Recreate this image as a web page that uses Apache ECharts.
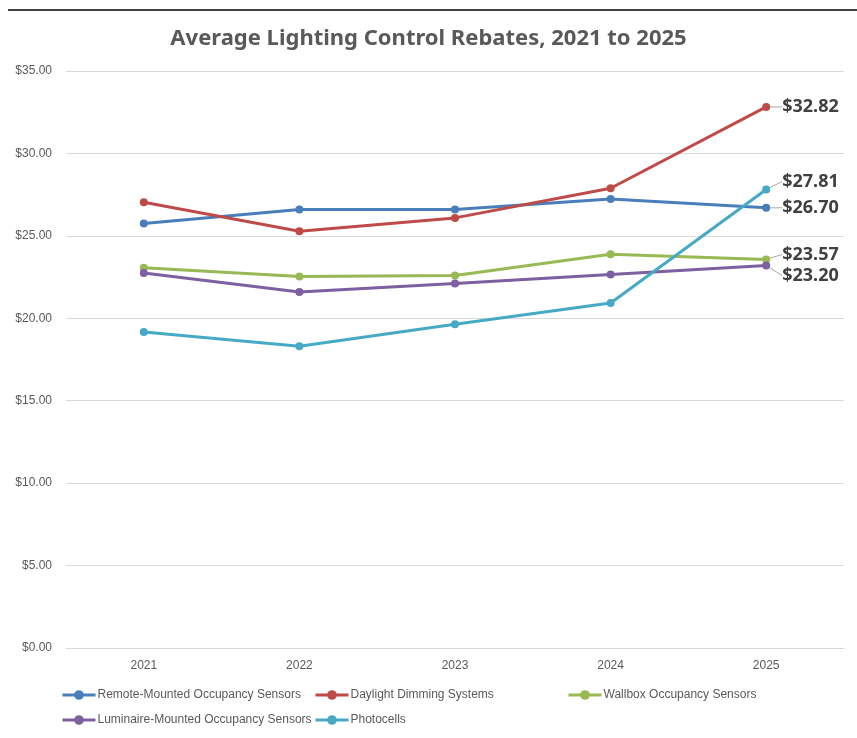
<!DOCTYPE html>
<html>
<head>
<meta charset="utf-8">
<script src="https://cdn.jsdelivr.net/npm/echarts@6/dist/echarts.min.js"></script>
<style>
  html, body { margin: 0; padding: 0; background: #fff; }
  #main { width: 857px; height: 738px; }
</style>
</head>
<body>
<div id="main"></div>
<script>
'use strict'

// chart data
const years = ['2021', '2022', '2023', '2024', '2025'];
const remoteMounted = [25.75, 26.60, 26.60, 27.24, 26.70];
const daylightDimming = [27.04, 25.28, 26.09, 27.89, 32.82];
const wallbox = [23.06, 22.53, 22.59, 23.89, 23.57];
const luminaireMounted = [22.75, 21.60, 22.11, 22.66, 23.20];
const photocells = [19.17, 18.30, 19.64, 20.93, 27.81];

const seriesNames = [
  'Remote-Mounted Occupancy Sensors',
  'Daylight Dimming Systems',
  'Wallbox Occupancy Sensors',
  'Luminaire-Mounted Occupancy Sensors',
  'Photocells'
];
const seriesValues = [remoteMounted, daylightDimming, wallbox, luminaireMounted, photocells];
const colors = ['#4A7EBB', '#BE4B48', '#98B954', '#7D60A0', '#46AAC5'];
// vertical nudge of the end labels so they don't overlap
const labelShift = [0, 0, -5, 10, -8];

// legend columns (like excel puts them)
const legendColumns = [
  [seriesNames[0], seriesNames[3]],
  [seriesNames[1], seriesNames[4]],
  [seriesNames[2]]
];
const legendLefts = [56, 309, 562];

var myChart = echarts.init(document.getElementById('main'));

let option = {
  color: colors,
  title: {
    text: 'Average Lighting Control Rebates, 2021 to 2025',
    left: 'center',
    top: 23,
    textStyle: {
      fontFamily: 'Noto Sans',
      fontSize: 22,
      fontWeight: 'bold',
      color: '#595959'
    }
  },
  graphic: [{
    type: 'line',
    shape: { x1: 8, y1: 10, x2: 857, y2: 10 },
    style: { stroke: '#000', lineWidth: 1.5 }
  }],
  legend: [],
  grid: {
    left: 66,
    right: 13,
    top: 71,
    bottom: 90
  },
  xAxis: {
    type: 'category',
    data: years,
    axisLine: { lineStyle: { color: '#d9d9d9', width: 1 } },
    axisTick: { show: false },
    axisLabel: {
      fontFamily: 'Liberation Sans',
      fontSize: 12,
      color: '#595959',
      margin: 12
    }
  },
  yAxis: {
    type: 'value',
    min: 0,
    max: 35,
    interval: 5,
    axisLine: { show: false },
    axisTick: { show: false },
    splitLine: { lineStyle: { color: '#d9d9d9' } },
    axisLabel: {
      fontFamily: 'Liberation Sans',
      fontSize: 12,
      color: '#595959',
      margin: 14,
      formatter: v => '$' + v.toFixed(2)
    }
  },
  series: []
};

for (let c = 0; c < legendColumns.length; c++) {
  option.legend.push({
    orient: 'vertical',
    left: legendLefts[c],
    top: 684,
    itemWidth: 33,
    itemHeight: 12,
    itemGap: 13,
    lineStyle: { width: 3 },
    textStyle: {
      fontFamily: 'Liberation Sans',
      fontSize: 12,
      color: '#595959',
      padding: [0, 0, 0, -3]
    },
    data: legendColumns[c]
  });
}

for (let i = 0; i < seriesNames.length; i++) {
  let vals = seriesValues[i];
  let data = vals.map((v, j) => {
    if (j !== vals.length - 1) return v;
    return { value: v, label: { show: true } };
  });
  option.series.push({
    name: seriesNames[i],
    type: 'line',
    data: data,
    symbol: 'circle',
    symbolSize: 8,
    lineStyle: { width: 3 },
    label: {
      show: false,
      position: 'right',
      distance: 12,
      formatter: p => '$' + p.value.toFixed(2),
      fontFamily: 'Noto Sans',
      fontWeight: 'bold',
      fontSize: 18,
      color: '#404040'
    },
    labelLayout: { dy: labelShift[i] },
    labelLine: { show: true, lineStyle: { color: '#a6a6a6', width: 1 } },
    animation: false
  });
}

myChart.setOption(option);
</script>
</body>
</html>
